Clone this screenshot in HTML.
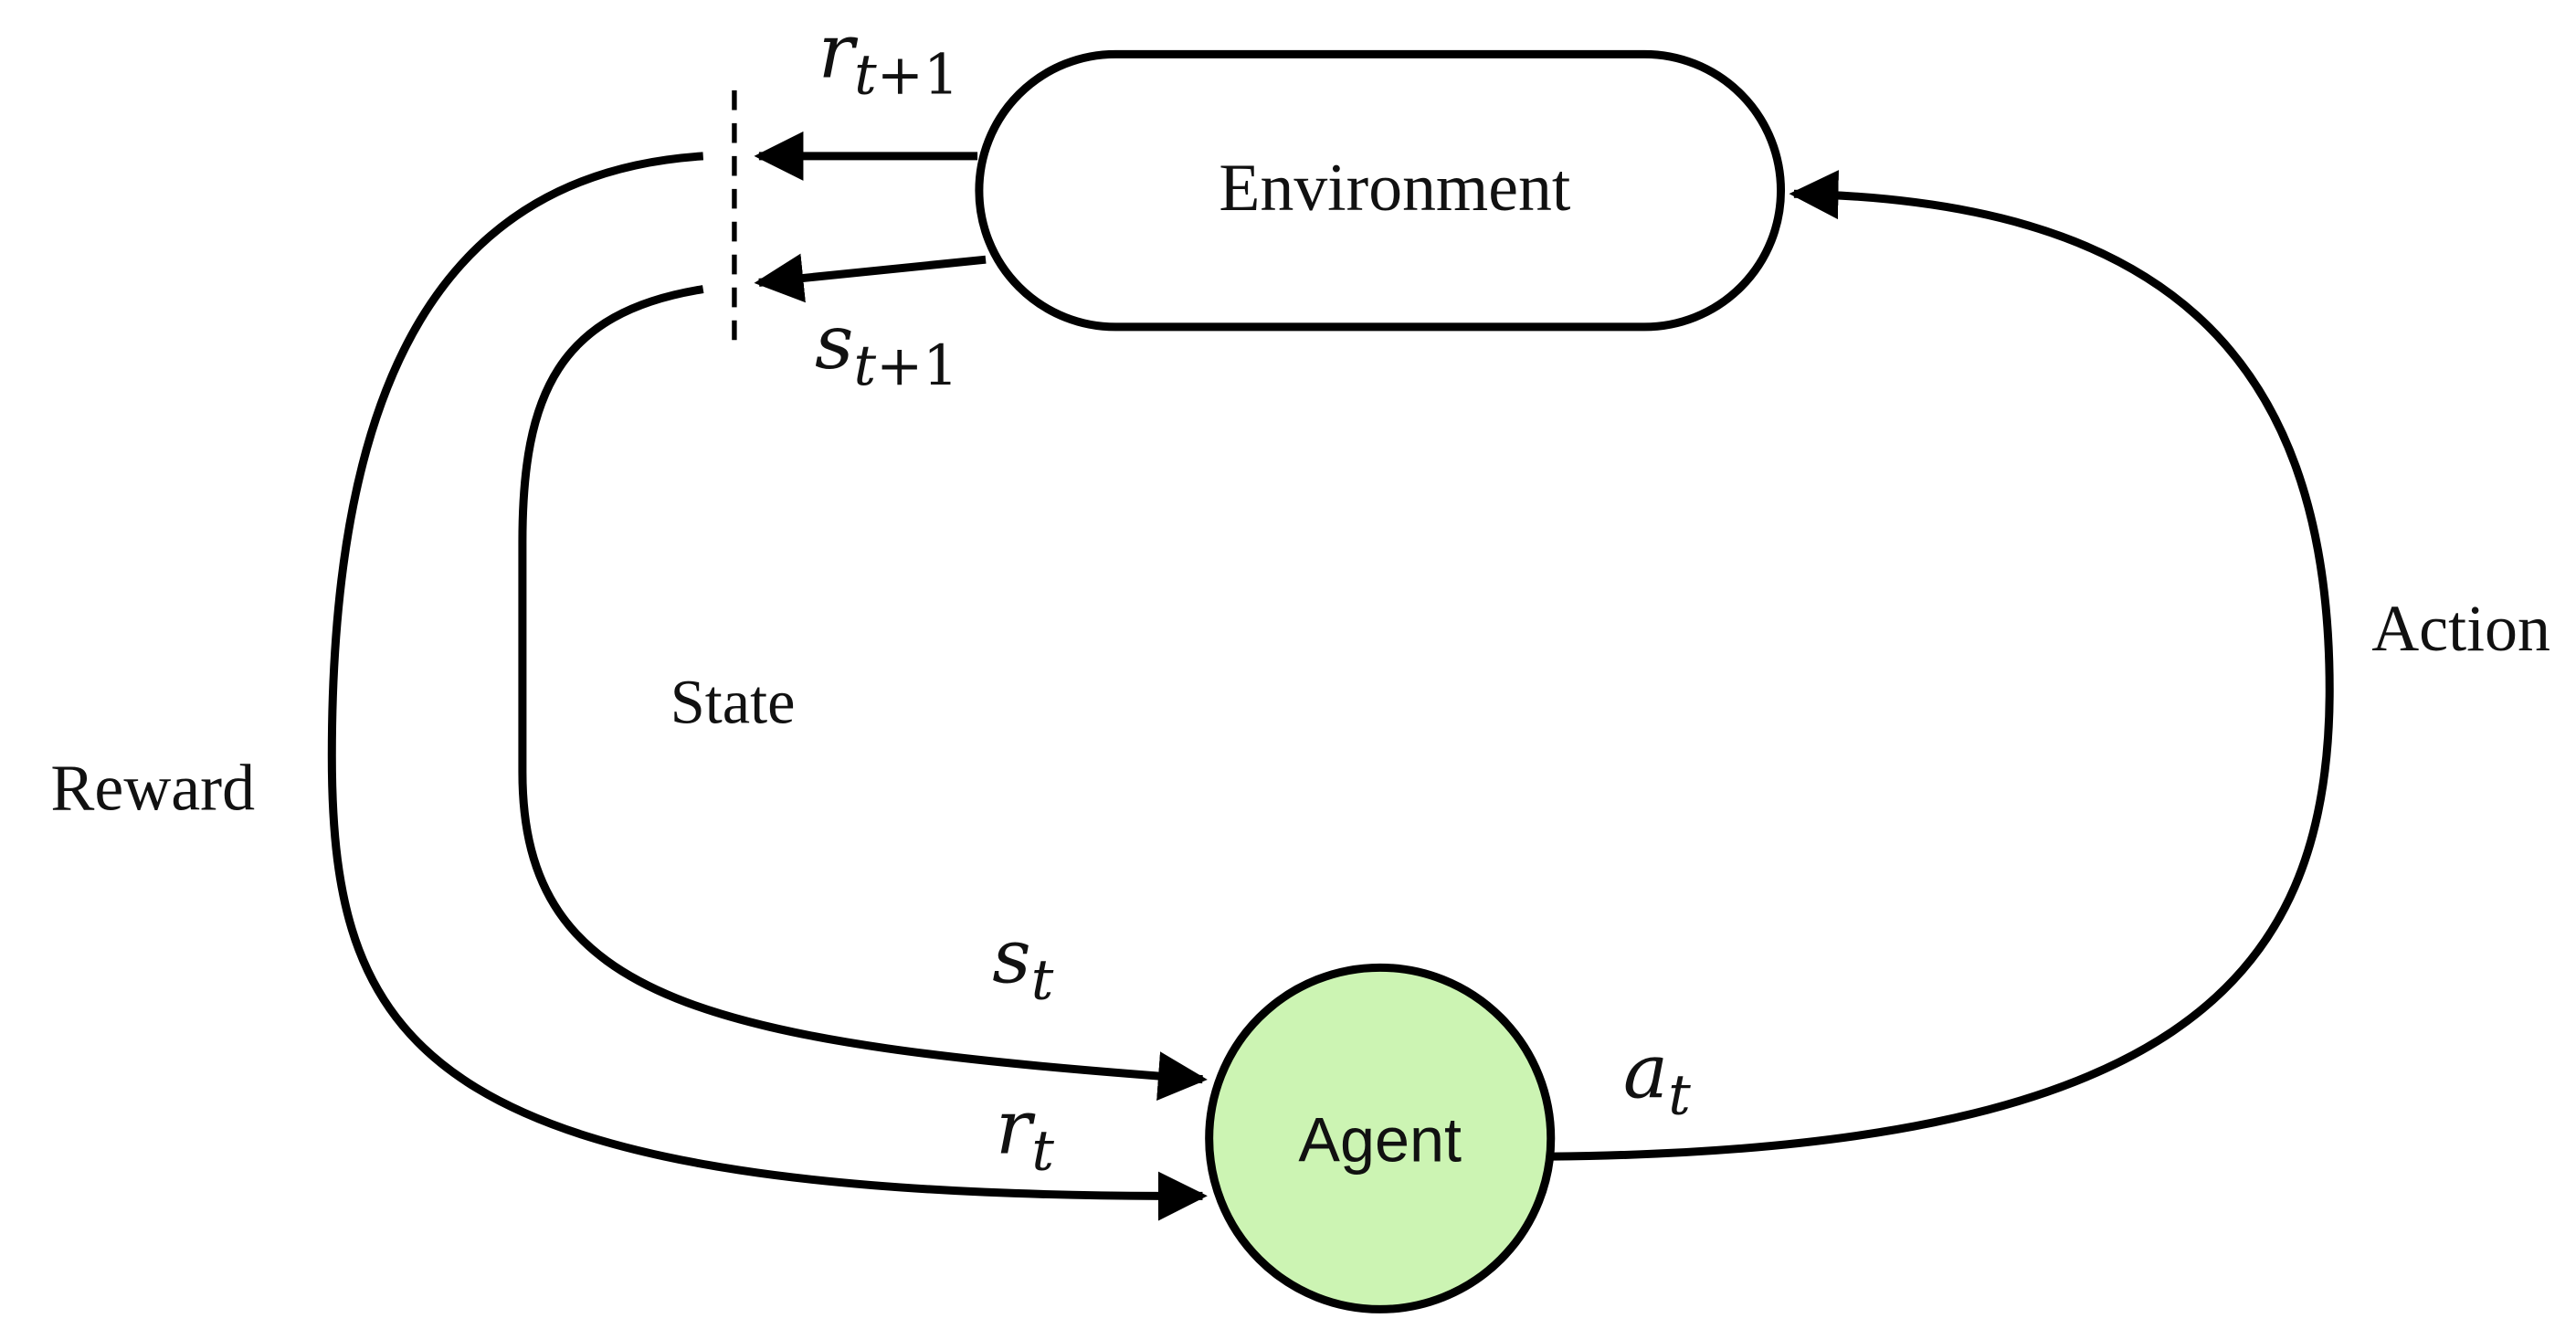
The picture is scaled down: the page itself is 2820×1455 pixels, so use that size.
<!DOCTYPE html>
<html><head><style>html,body{margin:0;padding:0;background:#fff;}svg{display:block}</style></head>
<body>
<svg width="2820" height="1455" viewBox="0 0 1568 809" preserveAspectRatio="none" xmlns="http://www.w3.org/2000/svg">
<defs>
<marker id="ah" viewBox="0 0 10 10" refX="9" refY="5" markerWidth="6" markerHeight="6" markerUnits="strokeWidth" orient="auto">
<path d="M0,0 L10,5 L0,10 z" fill="#000"/>
</marker>
</defs>
<g fill="none" stroke="#000" stroke-width="5">
<rect x="596" y="33" width="488" height="166" rx="83" ry="83" fill="#fff"/>
<circle cx="840" cy="693" r="104" fill="#ccf4b3"/>
<line x1="447" y1="55" x2="447" y2="215" stroke-width="3" stroke-dasharray="12,8"/>
<path d="M595,95 L462,95" marker-end="url(#ah)"/>
<path d="M600,158 L462,172" marker-end="url(#ah)"/>
<path d="M428,95 C270,105 202,230 202,460 C202,640 260,730 732,728" marker-end="url(#ah)"/>
<path d="M428,176 C340,190 318,240 318,330 L318,470 C318,610 430,635 732,657" marker-end="url(#ah)"/>
<path d="M945,704 C1320,700 1418,600 1418,420 C1418,210 1310,122 1092,118" marker-end="url(#ah)"/>
</g>
<g font-family="Liberation Serif, serif" fill="#111">
<text x="849" y="128" font-size="41" text-anchor="middle">Environment</text>
<text x="446" y="440" font-size="38" text-anchor="middle">State</text>
<text x="93" y="493" font-size="40" text-anchor="middle">Reward</text>
<text x="1498" y="396" font-size="40" text-anchor="middle">Action</text>
</g>
<text x="840" y="707" font-family="Liberation Sans, sans-serif" font-size="38" text-anchor="middle" fill="#111">Agent</text>
<g font-family="DejaVu Serif, serif" font-style="italic" fill="#111">
<text x="498" y="47" font-size="46">r<tspan font-size="34" dy="10">t<tspan font-style="normal">+1</tspan></tspan></text>
<text x="496" y="224" font-size="46">s<tspan font-size="34" dy="10">t<tspan font-style="normal">+1</tspan></tspan></text>
<text x="604" y="598" font-size="46">s<tspan font-size="34" dy="10">t</tspan></text>
<text x="606" y="702" font-size="46">r<tspan font-size="34" dy="10">t</tspan></text>
<text x="988" y="668" font-size="46">a<tspan font-size="34" dy="10">t</tspan></text>
</g>
</svg>
</body></html>
